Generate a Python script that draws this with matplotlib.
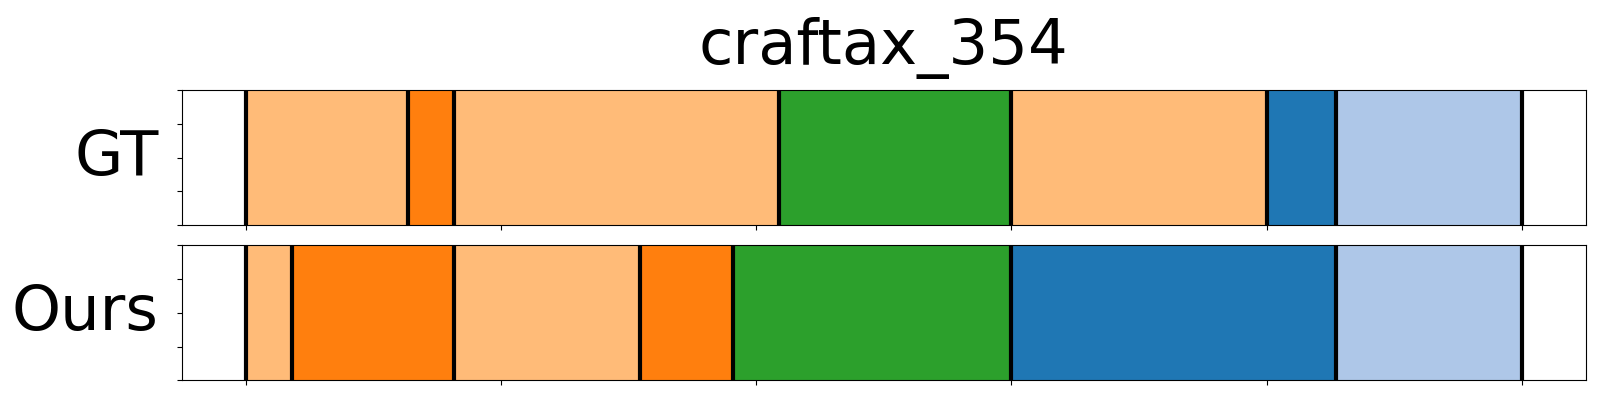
import numpy as np
import matplotlib.pyplot as plt

title = "craftax_354"
n_frames = 55

# segment boundaries (frame index) and tab20 colour index per segment
gt_bounds = [0, 7, 9, 23, 33, 44, 47, 55]
gt_labels = [3, 2, 3, 4, 3, 0, 1]
ours_bounds = [0, 2, 9, 17, 21, 33, 47, 55]
ours_labels = [3, 2, 3, 2, 4, 0, 1]

rows = [("GT", gt_bounds, gt_labels), ("Ours", ours_bounds, ours_labels)]

cmap = plt.get_cmap("tab20")

fig = plt.figure(figsize=(16, 4), dpi=100)
ax_top = fig.add_axes([0.1136, 0.4375, 0.8774, 0.3375])
ax_bot = fig.add_axes([0.1136, 0.049, 0.8774, 0.3375])

for ax, (name, bounds, labels) in zip([ax_top, ax_bot], rows):
    for i, lab in enumerate(labels):
        ax.axvspan(bounds[i], bounds[i + 1], color=cmap(lab), lw=0)
    for b in bounds:
        ax.axvline(b, color="black", lw=3)
    ax.set_xlim(-0.05 * n_frames, 1.05 * n_frames)
    ax.set_ylim(0, 1)
    ax.set_xticks(np.linspace(0, n_frames, 6))
    ax.set_yticks(np.linspace(0, 1, 5))
    ax.tick_params(labelbottom=False, labelleft=False)
    ax.set_ylabel(name, rotation=0, ha="right", va="center", fontsize=45, labelpad=13)

ax_top.set_title(title, fontsize=45, pad=19)

fig.savefig("out.png")
